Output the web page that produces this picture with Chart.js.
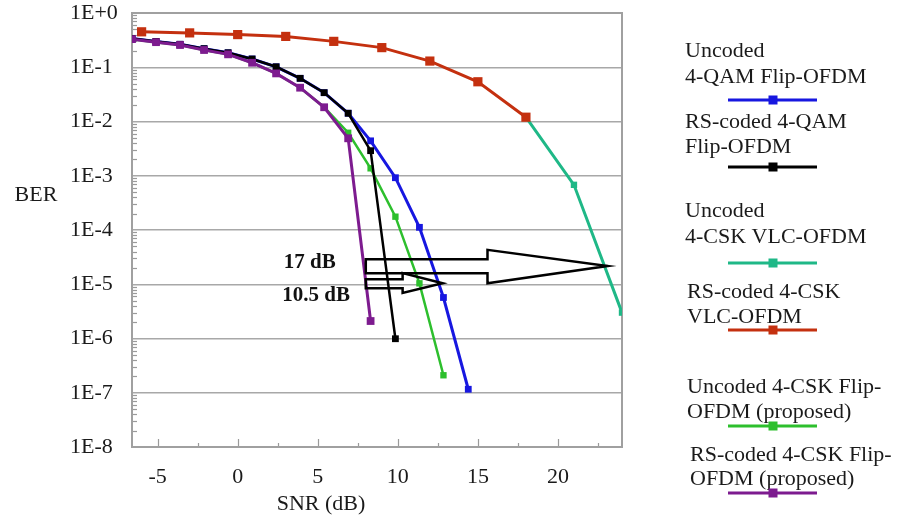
<!DOCTYPE html>
<html>
<head>
<meta charset="utf-8">
<title>BER vs SNR</title>
<script src="https://cdn.jsdelivr.net/npm/chart.js@4.4.1/dist/chart.umd.min.js"></script>
<style>
  html, body { margin: 0; padding: 0; background: #fff; }
  #wrap { position: relative; width: 905px; height: 519px; }
</style>
</head>
<body>
<div id="wrap"><canvas id="berChart"></canvas></div>
<script>
"use strict";

// SNR grids (dB)
const snrFlip = [-6.6, -5.1, -3.6, -2.1, -0.6, 0.9, 2.4, 3.9, 5.4, 6.9, 8.3, 9.85, 11.35, 12.85, 14.4];
const snrVlcCoded = [-6, -3, 0, 3, 6, 9, 12, 15, 18];
const snrVlcUncoded = [18, 21, 24];

// BER values per series
const berQamUncoded = [0.34, 0.30, 0.265, 0.22, 0.185, 0.142, 0.102, 0.0625, 0.034, 0.0142, 4.4e-3, 9.2e-4, 1.12e-4, 5.7e-6, 1.16e-7];
const berQamCoded = [0.34, 0.30, 0.265, 0.22, 0.185, 0.142, 0.102, 0.0625, 0.034, 0.0142, 2.9e-3, 9.9e-7];
const berVlcUncoded = [0.012, 6.8e-4, 3.0e-6];
const berVlcCoded = [0.45, 0.43, 0.40, 0.37, 0.30, 0.23, 0.13, 0.054, 0.012];
const berCskUncoded = [0.33, 0.29, 0.257, 0.208, 0.173, 0.121, 0.077, 0.042, 0.0183, 6.2e-3, 1.37e-3, 1.76e-4, 1.04e-5, 2.1e-7];
const berCskCoded = [0.33, 0.29, 0.257, 0.208, 0.173, 0.121, 0.077, 0.042, 0.0183, 0.0049, 2.1e-6];

// axis ticks
const xTicks = [-5, 0, 5, 10, 15, 20];
const yTicks = [1, 1e-1, 1e-2, 1e-3, 1e-4, 1e-5, 1e-6, 1e-7, 1e-8];

// legend text, one entry per series (line breaks as in the figure)
const seriesLabels = [
  ["Uncoded", "4-QAM Flip-OFDM"],
  ["RS-coded 4-QAM", "Flip-OFDM"],
  ["Uncoded", "4-CSK VLC-OFDM"],
  ["RS-coded 4-CSK", "VLC-OFDM"],
  ["Uncoded 4-CSK Flip-", "OFDM (proposed)"],
  ["RS-coded 4-CSK Flip-", "OFDM (proposed)"]
];

// gain annotations (block arrows), in data units
const gainArrows = [
  { label: "17 dB", labelX: 4.5, labelY: 2.5e-5,
    x0: 8.0, xHead: 15.6, xTip: 23.1, shaftHi: 2.9e-5, shaftLo: 1.6e-5, headHi: 4.3e-5, headLo: 1.04e-5, tipY: 2.17e-5 },
  { label: "10.5 dB", labelX: 4.9, labelY: 6.3e-6,
    x0: 8.0, xHead: 10.3, xTip: 12.8, shaftHi: 1.23e-5, shaftLo: 8.4e-6, headHi: 1.61e-5, headLo: 6.9e-6, tipY: 1.04e-5 }
];

const SERIF = '"Liberation Serif", "Times New Roman", serif';

function toPoints(xs, ys) {
  return ys.map((v, i) => ({ x: xs[i], y: v }));
}

function makeSeries(idx, xs, ys, color, radius, width, order) {
  return {
    label: seriesLabels[idx].join(" "),
    data: toPoints(xs, ys),
    borderColor: color,
    backgroundColor: color,
    borderWidth: width,
    pointStyle: "rect",
    pointRadius: radius,
    pointBorderWidth: 0,
    tension: 0,
    order: order
  };
}

// legend / text placement (pixels)
const legendRows = [
  { textY: [51, 77], lineY: 100, x: 685 },
  { textY: [122, 147], lineY: 167, x: 685 },
  { textY: [211, 237], lineY: 263, x: 685 },
  { textY: [292, 317], lineY: 330, x: 687 },
  { textY: [387, 412], lineY: 426, x: 687 },
  { textY: [455, 479], lineY: 493, x: 690 }
];

const framePlugin = {
  id: "frame",
  beforeDatasetsDraw(chart) {
    const { ctx, chartArea: a, scales: { x, y } } = chart;
    ctx.save();
    ctx.strokeStyle = "#9a9a9a";
    ctx.lineWidth = 1.2;
    // inward x ticks
    for (let v = -5; v <= 22.5; v += 2.5) {
      const px = Math.round(x.getPixelForValue(v)) + 0.5;
      const len = v % 5 === 0 ? 8 : 4;
      ctx.beginPath();
      ctx.moveTo(px, a.bottom);
      ctx.lineTo(px, a.bottom - len);
      ctx.stroke();
    }
    // inward minor y ticks
    for (let e = -8; e < 0; e++) {
      for (let m = 2; m <= 9; m++) {
        const py = Math.round(y.getPixelForValue(m * Math.pow(10, e))) + 0.5;
        ctx.beginPath();
        ctx.moveTo(a.left, py);
        ctx.lineTo(a.left + 5, py);
        ctx.stroke();
      }
    }
    ctx.lineWidth = 2;
    ctx.strokeStyle = "#a0a0a0";
    ctx.strokeRect(a.left, a.top, a.right - a.left, a.bottom - a.top);
    ctx.restore();
  }
};

const notesPlugin = {
  id: "notes",
  afterDraw(chart) {
    const { ctx, scales: { x, y } } = chart;
    ctx.save();

    // block arrows
    ctx.strokeStyle = "#000";
    ctx.lineWidth = 2.5;
    ctx.lineJoin = "miter";
    gainArrows.forEach((g) => {
      const X = (v) => x.getPixelForValue(v);
      const Y = (v) => y.getPixelForValue(v);
      ctx.beginPath();
      ctx.moveTo(X(g.x0), Y(g.shaftHi));
      ctx.lineTo(X(g.xHead), Y(g.shaftHi));
      ctx.lineTo(X(g.xHead), Y(g.headHi));
      ctx.lineTo(X(g.xTip), Y(g.tipY));
      ctx.lineTo(X(g.xHead), Y(g.headLo));
      ctx.lineTo(X(g.xHead), Y(g.shaftLo));
      ctx.lineTo(X(g.x0), Y(g.shaftLo));
      ctx.closePath();
      ctx.stroke();

      ctx.fillStyle = "#111";
      ctx.font = "bold 21px " + SERIF;
      ctx.textAlign = "center";
      ctx.textBaseline = "middle";
      ctx.fillText(g.label, X(g.labelX), Y(g.labelY));
    });

    // axis titles
    ctx.fillStyle = "#1a1a1a";
    ctx.font = "22px " + SERIF;
    ctx.textAlign = "center";
    ctx.textBaseline = "middle";
    ctx.fillText("BER", 36, 195);
    ctx.fillText("SNR (dB)", 321, 504);

    // legend
    chart.data.datasets.forEach((ds, i) => {
      const row = legendRows[i];
      ctx.fillStyle = "#1a1a1a";
      ctx.textAlign = "left";
      seriesLabels[i].forEach((line, k) => ctx.fillText(line, row.x, row.textY[k]));
      ctx.strokeStyle = ds.borderColor;
      ctx.lineWidth = 3;
      ctx.beginPath();
      ctx.moveTo(728, row.lineY);
      ctx.lineTo(817, row.lineY);
      ctx.stroke();
      ctx.fillStyle = ds.borderColor;
      ctx.fillRect(773 - 4.5, row.lineY - 4.5, 9, 9);
    });
    ctx.restore();
  }
};

const ctx = document.getElementById("berChart").getContext("2d");

new Chart(ctx, {
  type: "line",
  data: {
    datasets: [
      makeSeries(0, snrFlip, berQamUncoded, "#1717e0", 4.8, 3, 4),
      makeSeries(1, snrFlip, berQamCoded, "#000000", 4.8, 2.5, 2),
      makeSeries(2, snrVlcUncoded, berVlcUncoded, "#1fb887", 4.5, 3, 5),
      makeSeries(3, snrVlcCoded, berVlcCoded, "#c4300f", 6.5, 3, 1),
      makeSeries(4, snrFlip, berCskUncoded, "#2dbf2d", 4.5, 2.5, 3),
      makeSeries(5, snrFlip, berCskCoded, "#7d1b8f", 5.5, 3, 0)
    ]
  },
  options: {
    responsive: true,
    maintainAspectRatio: false,
    animation: false,
    layout: { padding: { left: 70, right: 283, top: 13, bottom: 0 } },
    plugins: {
      legend: { display: false },
      tooltip: { enabled: false }
    },
    scales: {
      x: {
        type: "linear",
        min: -6.6,
        max: 24,
        afterBuildTicks: (scale) => { scale.ticks = xTicks.map((v) => ({ value: v })); },
        afterFit: (scale) => { scale.height = 72; scale.paddingLeft = 0; scale.paddingRight = 0; },
        grid: { display: false, drawTicks: false },
        border: { display: false },
        ticks: {
          color: "#1a1a1a",
          font: { family: SERIF, size: 22 },
          padding: 17,
          maxRotation: 0,
          autoSkip: false
        }
      },
      y: {
        type: "logarithmic",
        min: 1e-8,
        max: 1,
        afterBuildTicks: (scale) => { scale.ticks = yTicks.map((v) => ({ value: v })); },
        afterFit: (scale) => { scale.width = 62; scale.paddingTop = 0; scale.paddingBottom = 0; },
        grid: { color: "#a8a8a8", lineWidth: 1.5, drawTicks: false },
        border: { display: false },
        ticks: {
          color: "#1a1a1a",
          font: { family: SERIF, size: 22 },
          crossAlign: "far",
          autoSkip: false,
          callback: (v) => {
            const e = Math.round(Math.log10(v));
            return "1E" + (e >= 0 ? "+" + e : String(e));
          }
        }
      }
    }
  },
  plugins: [framePlugin, notesPlugin]
});
</script>
</body>
</html>
